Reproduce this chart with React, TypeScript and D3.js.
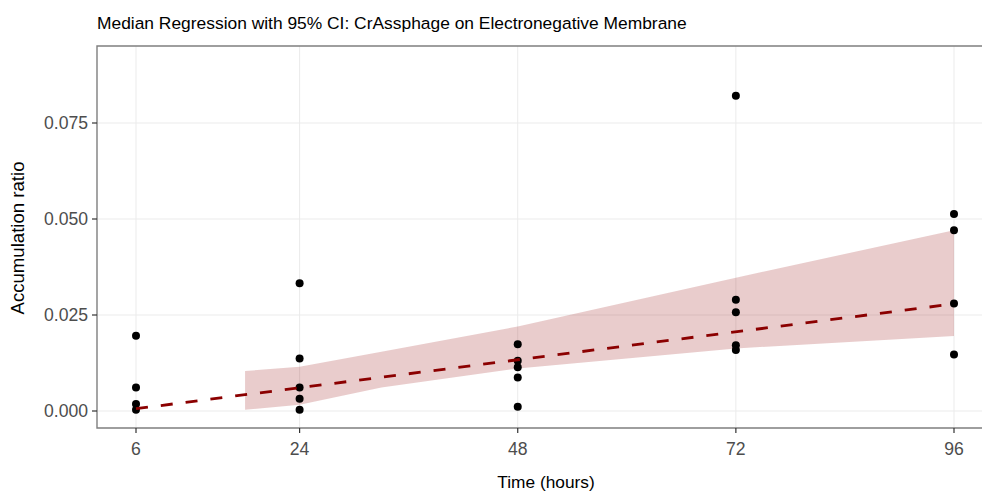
import React, { useEffect, useRef } from "react";
import * as d3 from "d3";

// observations: time (hours) and accumulation ratio
const obsHours = [6, 6, 6, 6, 24, 24, 24, 24, 24, 48, 48, 48, 48, 48, 72, 72, 72, 72, 72, 96, 96, 96, 96];
const obsRatio = [
  0.0196, 0.0061, 0.0018, 0.0003,
  0.0333, 0.0137, 0.0061, 0.0032, 0.0003,
  0.0174, 0.0131, 0.0114, 0.0087, 0.0011,
  0.0821, 0.029, 0.0257, 0.0171, 0.0159,
  0.0513, 0.0471, 0.028, 0.0147,
];

// median regression fit
const fitHours = [6, 96];
const fitValues = [0.0006, 0.0279];

// 95% CI band
const ciHours = [18, 24, 33, 48, 72, 96];
const ciLower = [0.0003, 0.0016, 0.0061, 0.0111, 0.0163, 0.0195];
const ciUpper = [0.0104, 0.0115, 0.0154, 0.022, 0.0347, 0.0471];

const xTicks = [6, 24, 48, 72, 96];
const yTicks = [0, 0.025, 0.05, 0.075];

const title = "Median Regression with 95% CI: CrAssphage on Electronegative Membrane";
const xTitle = "Time (hours)";
const yTitle = "Accumulation ratio";

export default function App() {
  const ref = useRef<SVGSVGElement>(null);

  useEffect(() => {
    const W = 982;
    const H = 493;
    const panel = { left: 97, top: 46, right: 990, bottom: 428 };
    const font = "'Liberation Sans', Arial, sans-serif";

    const svg = d3.select(ref.current);
    svg.selectAll("*").remove();
    svg.attr("width", W).attr("height", H);

    const x = d3.scaleLinear().domain([6, 96]).range([136, 954]);
    const y = d3.scaleLinear().domain([0, 0.075]).range([411, 123]);

    svg.append("rect").attr("width", W).attr("height", H).attr("fill", "white");

    // grid
    const grid = svg.append("g").attr("stroke", "#EBEBEB").attr("stroke-width", 1);
    yTicks.forEach((t) => {
      grid.append("line").attr("x1", panel.left).attr("x2", panel.right)
        .attr("y1", y(t)).attr("y2", y(t));
    });
    xTicks.forEach((t) => {
      grid.append("line").attr("y1", panel.top).attr("y2", panel.bottom)
        .attr("x1", x(t)).attr("x2", x(t));
    });

    // CI ribbon
    const band = ciHours.map((h, i) => ({ h, lo: ciLower[i], hi: ciUpper[i] }));
    svg.append("path")
      .datum(band)
      .attr("d", d3.area<any>().x((d) => x(d.h)).y0((d) => y(d.lo)).y1((d) => y(d.hi)))
      .attr("fill", "#A52A2A")
      .attr("fill-opacity", 0.24);

    // points
    svg.append("g")
      .selectAll("circle")
      .data(obsHours.map((h, i) => ({ h, v: obsRatio[i] })))
      .enter()
      .append("circle")
      .attr("cx", (d) => x(d.h))
      .attr("cy", (d) => y(d.v))
      .attr("r", 4)
      .attr("fill", "black");

    // fit line
    svg.append("path")
      .datum(fitHours.map((h, i) => ({ h, v: fitValues[i] })))
      .attr("d", d3.line<any>().x((d) => x(d.h)).y((d) => y(d.v)))
      .attr("fill", "none")
      .attr("stroke", "#8B0000")
      .attr("stroke-width", 2.8)
      .attr("stroke-dasharray", "12,13");

    // panel border (top, left, bottom)
    svg.append("path")
      .attr("d", `M${panel.right},${panel.top}H${panel.left}V${panel.bottom}H${panel.right}`)
      .attr("fill", "none")
      .attr("stroke", "#7F7F7F")
      .attr("stroke-width", 1.4);

    // y axis ticks + labels
    const yAx = svg.append("g");
    yTicks.forEach((t) => {
      yAx.append("line").attr("x1", panel.left - 5).attr("x2", panel.left)
        .attr("y1", y(t)).attr("y2", y(t)).attr("stroke", "#333").attr("stroke-width", 1.2);
      yAx.append("text").attr("x", panel.left - 9).attr("y", y(t)).attr("dy", "0.36em")
        .attr("text-anchor", "end").attr("font-family", font).attr("font-size", 17.6)
        .attr("fill", "#4D4D4D").text(d3.format(".3f")(t));
    });

    // x axis ticks + labels
    const xAx = svg.append("g");
    xTicks.forEach((t) => {
      xAx.append("line").attr("y1", panel.bottom).attr("y2", panel.bottom + 5)
        .attr("x1", x(t)).attr("x2", x(t)).attr("stroke", "#333").attr("stroke-width", 1.2);
      xAx.append("text").attr("x", x(t)).attr("y", 455)
        .attr("text-anchor", "middle").attr("font-family", font).attr("font-size", 17.6)
        .attr("fill", "#4D4D4D").text(t);
    });

    // titles
    svg.append("text").attr("x", 97).attr("y", 29).attr("font-family", font)
      .attr("font-size", 17.4).attr("fill", "black").text(title);
    svg.append("text").attr("x", 546).attr("y", 488).attr("text-anchor", "middle")
      .attr("font-family", font).attr("font-size", 17.3).attr("fill", "black").text(xTitle);
    svg.append("text")
      .attr("transform", `translate(24,238) rotate(-90)`)
      .attr("text-anchor", "middle").attr("font-family", font).attr("font-size", 18.6)
      .attr("fill", "black").text(yTitle);
  }, []);

  return <svg ref={ref} style={{ position: "absolute", left: 0, top: 0, display: "block" }} />;
}
